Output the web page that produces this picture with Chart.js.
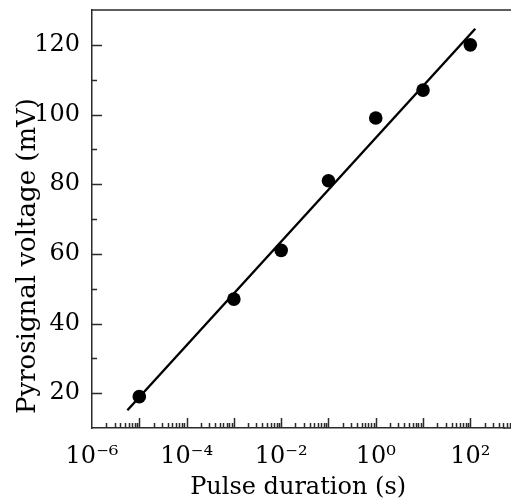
<!DOCTYPE html>
<html>
<head>
<meta charset="utf-8">
<script src="https://cdn.jsdelivr.net/npm/chart.js@4"></script>
<style>
  html, body { margin: 0; padding: 0; background: #fff; overflow: hidden; }
  canvas { display: block; }
</style>
</head>
<body>
<canvas id="pyroChartId" width="511" height="500"></canvas>
<script>
// measured points
const pulseDurations = [1e-5, 1e-3, 1e-2, 1e-1, 1, 10, 100];
const pyroVoltages = [19, 47, 61, 81, 99, 107, 120];

// fitted line end points
const fitDurations = [5.6e-6, 127];
const fitVoltages = [15.1, 124.6];

const xTickValues = [1e-6, 1e-4, 1e-2, 1, 100];
const xTickLabels = ['10\u207B\u2076', '10\u207B\u2074', '10\u207B\u00B2', '10\u2070', '10\u00B2'];
const yTickValues = [20, 40, 60, 80, 100, 120];

const yTitle = 'Pyrosignal voltage (mV)';

const axisColor = '#2a2a2a';
const serif = "'DejaVu Serif', 'Liberation Serif', serif";

const innerTicks = {
    id: 'innerTicks',
    afterDraw(chart) {
        const ctx = chart.ctx;
        const area = chart.chartArea;
        const xs = chart.scales.x;
        const ys = chart.scales.y;
        ctx.save();
        ctx.strokeStyle = axisColor;
        ctx.lineWidth = 1.5;
        ctx.beginPath();
        // top frame line, and bottom axis carried on to the canvas edge
        ctx.moveTo(area.left, area.top);
        ctx.lineTo(chart.width, area.top);
        ctx.moveTo(area.right - 1, area.bottom);
        ctx.lineTo(chart.width, area.bottom);
        // log ticks on x
        for (let d = -6; d <= 2; d++) {
            for (let k = 1; k <= 9; k++) {
                const v = k * Math.pow(10, d);
                if (v <= xs.min * 1.0001) continue;
                const px = Math.round(xs.getPixelForValue(v)) + 0.5;
                if (px > chart.width) continue;
                const len = k === 1 ? 10 : 5;
                ctx.moveTo(px, area.bottom);
                ctx.lineTo(px, area.bottom - len);
            }
        }
        // y ticks
        for (let v = ys.min + 10; v < ys.max; v += 10) {
            const py = Math.round(ys.getPixelForValue(v)) + 0.5;
            const len = v % 20 === 0 ? 10 : 5;
            ctx.moveTo(area.left, py);
            ctx.lineTo(area.left + len, py);
        }
        ctx.stroke();

        // y axis title, sits a bit lower than the plot centre
        ctx.fillStyle = '#000';
        ctx.font = '26px ' + serif;
        ctx.textAlign = 'center';
        ctx.textBaseline = 'middle';
        ctx.translate(28, 256);
        ctx.rotate(-Math.PI / 2);
        ctx.fillText(yTitle, 0, 0);
        ctx.restore();
    }
};

const ctx = document.getElementById('pyroChartId').getContext('2d');

new Chart(ctx, {
    type: 'scatter',
    data: {
        datasets: [{
            label: 'fit',
            data: fitDurations.map((x, i) => ({ x: x, y: fitVoltages[i] })),
            showLine: true,
            borderColor: '#000',
            borderWidth: 2.4,
            pointRadius: 0,
            order: 2
        }, {
            label: 'data',
            data: pulseDurations.map((x, i) => ({ x: x, y: pyroVoltages[i] })),
            backgroundColor: '#000',
            borderColor: '#000',
            pointRadius: 6.8,
            pointBorderWidth: 0,
            order: 1
        }]
    },
    options: {
        responsive: false,
        animation: false,
        layout: { padding: { top: 10, right: 0, left: 0, bottom: 0 } },
        plugins: {
            legend: { display: false },
            tooltip: { enabled: false }
        },
        scales: {
            x: {
                type: 'logarithmic',
                min: 1e-6,
                max: 520,
                afterFit: s => { s.height = 72; s.paddingLeft = 0; s.paddingRight = 0; },
                afterBuildTicks: s => { s.ticks = xTickValues.map(v => ({ value: v })); },
                grid: { display: false, drawTicks: false },
                border: { display: true, color: axisColor, width: 1.5 },
                ticks: {
                    autoSkip: false,
                    maxRotation: 0,
                    padding: 14,
                    color: '#000',
                    font: { family: serif, size: 24 },
                    callback: (v) => {
                        const i = xTickValues.findIndex(t => Math.abs(t - v) / t < 1e-6);
                        return i >= 0 ? xTickLabels[i] : '';
                    }
                },
                title: {
                    display: true,
                    text: 'Pulse duration (s)',
                    color: '#000',
                    font: { family: serif, size: 24 },
                    padding: { top: 0, bottom: -2 }
                }
            },
            y: {
                min: 10,
                max: 130,
                afterFit: s => { s.width = 92; s.paddingTop = 0; s.paddingBottom = 0; },
                afterBuildTicks: s => { s.ticks = yTickValues.map(v => ({ value: v })); },
                grid: { display: false, drawTicks: false },
                border: { display: true, color: axisColor, width: 1.5 },
                ticks: {
                    padding: 12,
                    color: '#000',
                    font: { family: serif, size: 24 }
                }
            }
        }
    },
    plugins: [innerTicks]
});
</script>
</body>
</html>
